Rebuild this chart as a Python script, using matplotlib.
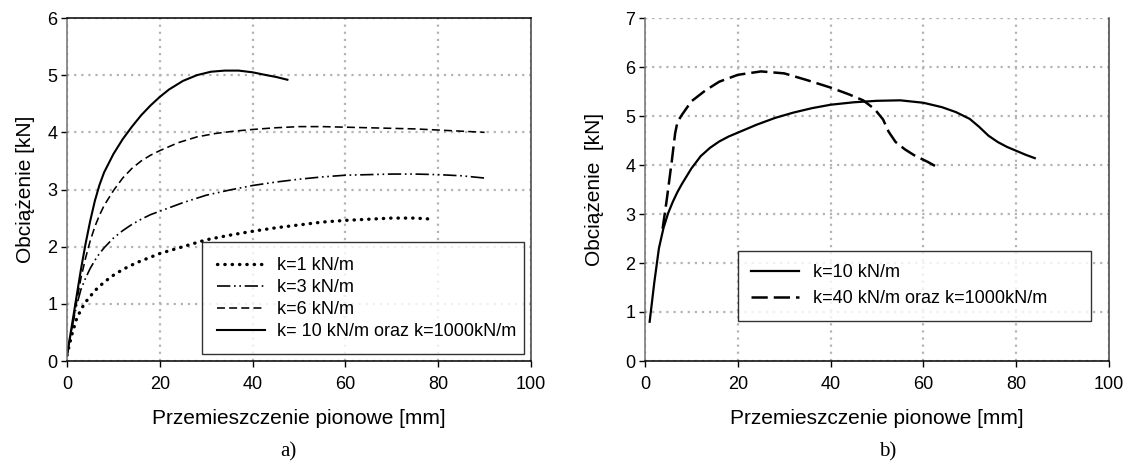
import matplotlib
matplotlib.use("Agg")
import matplotlib.pyplot as plt

plt.rcParams['font.family'] = ['Liberation Sans', 'DejaVu Sans']

# ---- data (a) ----
a_k1_x = [0, 1, 2, 3, 4, 5, 6, 8, 10, 12, 15, 20, 25, 30, 35, 40, 45, 50, 55, 60, 65, 70, 75, 79]
a_k1_y = [0.1, 0.45, 0.72, 0.9, 1.03, 1.13, 1.23, 1.38, 1.5, 1.6, 1.72, 1.88, 2.0, 2.12, 2.2, 2.27, 2.33, 2.38, 2.43, 2.46, 2.48, 2.5, 2.5, 2.48]

a_k3_x = [0, 1, 2, 3, 4, 5, 6, 7, 8, 10, 12, 14, 16, 18, 20, 25, 30, 35, 40, 45, 50, 55, 60, 65, 70, 75, 80, 85, 90]
a_k3_y = [0.1, 0.55, 0.95, 1.25, 1.45, 1.62, 1.76, 1.88, 1.98, 2.15, 2.28, 2.39, 2.48, 2.56, 2.62, 2.77, 2.9, 2.99, 3.07, 3.13, 3.18, 3.22, 3.25, 3.26, 3.27, 3.27, 3.26, 3.24, 3.2]

a_k6_x = [0, 1, 2, 3, 4, 5, 6, 7, 8, 10, 12, 14, 16, 18, 20, 24, 28, 32, 36, 40, 45, 50, 55, 60, 65, 70, 75, 80, 85, 90]
a_k6_y = [0.1, 0.55, 1.0, 1.45, 1.8, 2.1, 2.35, 2.55, 2.72, 2.98, 3.2, 3.37, 3.5, 3.6, 3.68, 3.82, 3.92, 3.98, 4.02, 4.05, 4.08, 4.1, 4.1, 4.09, 4.08, 4.07, 4.06, 4.04, 4.02, 4.0]

a_k10_x = [0, 1, 2, 3, 4, 5, 6, 7, 8, 10, 12, 14, 16, 18, 20, 22, 25, 28, 31, 34, 37, 40, 43, 45, 47.5]
a_k10_y = [0.1, 0.6, 1.1, 1.6, 2.05, 2.45, 2.8, 3.08, 3.3, 3.62, 3.88, 4.1, 4.3, 4.47, 4.62, 4.75, 4.9, 5.0, 5.06, 5.08, 5.08, 5.05, 5.0, 4.97, 4.92]

a_labels = ['k=1 kN/m', 'k=3 kN/m', 'k=6 kN/m', 'k= 10 kN/m oraz k=1000kN/m']

# ---- data (b) ----
b_k10_x = [1, 2, 3, 4, 5, 6, 7, 8, 10, 12, 14, 16, 18, 20, 24, 28, 32, 36, 40, 45, 50, 55, 60, 64, 67, 70, 72, 74, 76, 78, 80, 82, 84]
b_k10_y = [0.8, 1.6, 2.3, 2.72, 3.02, 3.25, 3.45, 3.62, 3.93, 4.18, 4.35, 4.48, 4.58, 4.66, 4.82, 4.96, 5.07, 5.16, 5.23, 5.28, 5.31, 5.32, 5.27, 5.18, 5.08, 4.94, 4.78, 4.6, 4.47, 4.37, 4.29, 4.21, 4.14]

b_k40_x = [3.8, 4.7, 5.8, 6.5, 7, 8, 10, 13, 16, 20, 25, 30, 35, 40, 44, 47, 49.5, 51.3, 52.5, 54, 56, 58, 61, 63.5]
b_k40_y = [2.7, 3.3, 4.1, 4.65, 4.88, 5.03, 5.3, 5.52, 5.7, 5.84, 5.91, 5.87, 5.73, 5.58, 5.44, 5.32, 5.14, 4.93, 4.68, 4.47, 4.32, 4.2, 4.06, 3.93]

b_labels = ['k=10 kN/m', 'k=40 kN/m oraz k=1000kN/m']

x_ticks = [0, 20, 40, 60, 80, 100]
xlabel = 'Przemieszczenie pionowe [mm]'

W, H = 1128, 461
fig = plt.figure(figsize=(W / 100, H / 100), dpi=100)

axA = fig.add_axes([67 / W, 1 - 361 / H, 464 / W, 343 / H])
axB = fig.add_axes([645 / W, 1 - 361 / H, 464 / W, 343 / H])

grid_kw = dict(color='#b4b4b4', linestyle=(0, (1, 2.2)), linewidth=1.6)


def style(ax, ymax, top_spine):
    ax.set_xlim(0, 100)
    ax.set_ylim(0, ymax)
    ax.set_xticks(x_ticks)
    ax.set_yticks(range(0, ymax + 1))
    ax.tick_params(axis='both', direction='out', length=4, width=1, labelsize=13, colors='black')
    ax.tick_params(axis='x', pad=7)
    ax.tick_params(axis='y', pad=3)
    ax.grid(True, **grid_kw)
    ax.set_axisbelow(True)
    ax.spines['left'].set_color('#707070')
    ax.spines['bottom'].set_color('black')
    ax.spines['right'].set_color('#404040')
    ax.spines['top'].set_visible(top_spine)
    ax.spines['top'].set_color('black')
    for s in ax.spines.values():
        s.set_linewidth(1.1)
    ax.set_xlabel(xlabel, fontsize=15, labelpad=11)


style(axA, 6, True)
style(axB, 7, False)
axB.axhline(7, **grid_kw)

axA.plot(a_k1_x, a_k1_y, color='black', linestyle=(0, (0.1, 2.1)), linewidth=2.4,
         dash_capstyle='round', label=a_labels[0])
axA.plot(a_k3_x, a_k3_y, color='black', linestyle=(0, (8, 2.2, 1, 2.2, 1, 2.2)), linewidth=1.2,
         label=a_labels[1])
axA.plot(a_k6_x, a_k6_y, color='black', linestyle=(0, (5, 2.6)), linewidth=1.15, label=a_labels[2])
axA.plot(a_k10_x, a_k10_y, color='black', linestyle='-', linewidth=1.5, label=a_labels[3])

axA.set_ylabel('Obciążenie [kN]', fontsize=15, labelpad=9)

legA = axA.legend(loc='lower left', bbox_to_anchor=(0.292, 0.019, 0.693, 0.317), mode='expand',
                  fontsize=13, frameon=True, fancybox=False, handlelength=2.65, handletextpad=0.7,
                  borderaxespad=0, borderpad=0.8, labelspacing=0.28)
legA.get_frame().set_edgecolor('black')
legA.get_frame().set_linewidth(1.0)

axB.plot(b_k10_x, b_k10_y, color='black', linestyle='-', linewidth=1.6, label=b_labels[0])
axB.plot(b_k40_x, b_k40_y, color='black', linestyle=(0, (6.5, 2.4)), linewidth=1.8, label=b_labels[1])

axB.set_ylabel('Obciążenie  [kN]', fontsize=15, labelpad=15)

legB = axB.legend(loc='lower left', bbox_to_anchor=(0.2, 0.117, 0.761, 0.202), mode='expand',
                  fontsize=13, frameon=True, fancybox=False, handlelength=2.65, handletextpad=0.75,
                  borderaxespad=0, borderpad=0.75, labelspacing=0.5)
legB.get_frame().set_edgecolor('black')
legB.get_frame().set_linewidth(1.0)

fig.text(288 / W, 1 - 452 / H, 'a)', family=['Liberation Serif', 'DejaVu Serif'], fontsize=15,
         ha='center', va='center')
fig.text(888 / W, 1 - 452 / H, 'b)', family=['Liberation Serif', 'DejaVu Serif'], fontsize=15,
         ha='center', va='center')

fig.savefig('out.png', dpi=100, facecolor='white')
